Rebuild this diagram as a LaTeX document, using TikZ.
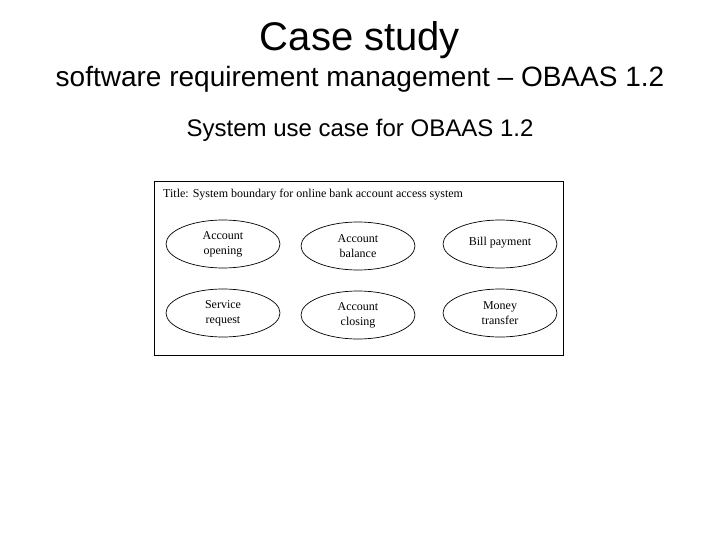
\documentclass[tikz,border=0pt]{standalone}
\usepackage{fontspec}
\setmainfont{Liberation Sans}
\newfontfamily\serifuc{Liberation Serif}
\usetikzlibrary{shapes.geometric}
\begin{document}
\begin{tikzpicture}[x=1pt,y=-1pt,
  heading/.style={anchor=base,inner sep=0pt,text=black},
  usecase/.style={draw=black,line width=0.7pt,ellipse,minimum width=114pt,minimum height=48pt,inner sep=0pt,
    font=\serifuc\fontsize{12}{15}\selectfont,align=center}]
\useasboundingbox (0,0) rectangle (720,540);
\fill[white] (0,0) rectangle (720,540);
\node[heading,font=\fontsize{40}{46}\selectfont] (t1) at (360,51) {Case study};
\node[heading,font=\fontsize{28}{32}\selectfont] (t2) at (360,87) {software requirement management -- OBAAS 1.2};
\node[heading,font=\fontsize{24}{28}\selectfont] (t3) at (360,137) {System use case for OBAAS 1.2};
\draw[line width=0.9pt] (154,181) rectangle (563,355);
\node[anchor=base west,inner sep=0pt,font=\serifuc\fontsize{12}{14}\selectfont] (bt) at (163,198) {Title: System boundary for online bank account access system};
\node[usecase] (u1) at (223,244) {Account\\opening};
\node[usecase] (u2) at (358,246) {Account\\balance};
\node[usecase] (u3) at (500,244) {\raisebox{5pt}{Bill payment}};
\node[usecase] (u4) at (223,313) {Service\\request};
\node[usecase] (u5) at (358,315) {Account\\closing};
\node[usecase] (u6) at (500,313) {Money\\transfer};
\end{tikzpicture}
\end{document}
